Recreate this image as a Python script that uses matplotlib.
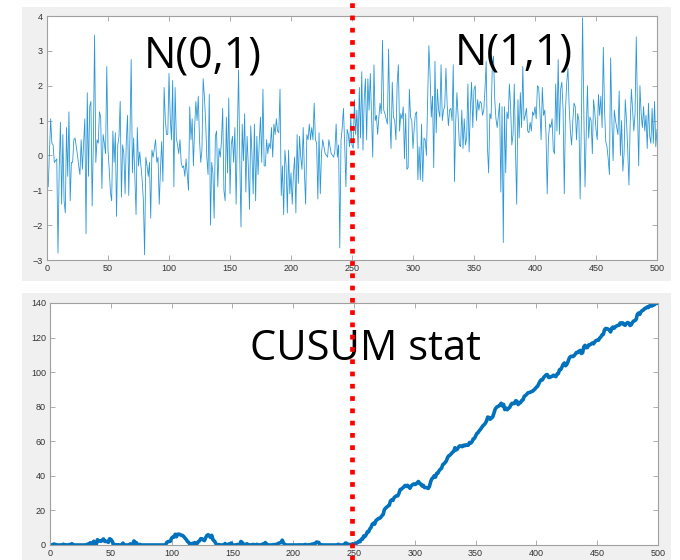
import numpy as np
import matplotlib
matplotlib.use("Agg")
import matplotlib.pyplot as plt
import matplotlib.transforms as mtransforms
from matplotlib.patches import Rectangle
from matplotlib.lines import Line2D

# Observations before the change, drawn around N(0,1)
pre_change = [
    -0.9, 0.1, 1.05, 0.35, 0.3, -0.2, -0.15, -0.1, -2.8, -0.4,
    0.95, -1.4, 0.6, -1.3, -1.65, 0.8, -0.6, 1.25, -1.3, -0.2,
    -0.2, 0.45, 0.5, 0.25, 0.0, -0.3, -0.55, 0.45, -0.4, 0.3,
    1.05, -2.25, 1.8, -0.6, 1.4, 1.55, -1.45, 0.4, 3.45, -0.2,
    0.45, 0.35, 1.25, 1.1, -0.95, 0.6, 0.35, 0.05, 2.55, 0.15,
    -0.4, -1.05, -1.3, 0.7, -0.2, 0.65, -1.75, 0.3, 0.55, 1.55,
    -1.2, 0.3, 0.05, -1.1, 0.4, 1.15, -1.15, 0.6, 2.75, -0.5,
    0.5, -0.6, -1.7, 0.8, -0.3, 0.1, -0.3, -0.7, -1.3, -2.85,
    -0.05, -0.3, -0.6, -0.2, -1.8, 0.15, -0.05, 0.2, 0.45, -0.2,
    -0.05, -1.4, -0.4, 0.4, -0.75, 1.95, 1.0, 0.6, 0.6, 2.35,
    1.1, 0.45, 2.15, -0.9, 1.95, 0.5, 0.3, 0.05, 0.45, -0.2,
    -0.35, -0.3, -0.6, -0.1, -0.55, -1.0, 1.4, 0.45, 1.05, -0.3,
    0.8, 1.55, 1.0, 1.7, 0.45, -0.2, 0.15, 2.2, 1.7, 1.0,
    -0.05, -0.55, 1.75, -2.0, -0.2, -0.5, -1.8, 0.55, 0.7, -0.9,
    0.2, -0.05, 0.4, 1.35, -1.0, -1.3, 1.1, -0.5, 1.65, -1.1,
    0.3, 0.55, -0.2, 0.8, -1.4, 0.6, 2.45, -0.05, -2.05, 0.9,
    -0.15, 1.2, -1.05, 0.55, -0.3, -1.55, 0.85, 0.05, -1.1, 0.9,
    -1.3, 0.55, -0.55, 0.4, 1.1, -0.2, 1.9, -0.3, -0.3, 0.45,
    0.05, 0.35, 0.2, 0.8, -0.05, 0.9, 0.6, 1.05, 0.7, 0.65,
    1.9, -1.15, -0.3, -1.7, 0.15, -0.3, -1.65, 0.15, -1.1, -0.5,
    -1.4, -0.5, -0.05, -1.65, 0.6, -0.8, 0.55, -0.05, -0.4, 0.8,
    -0.5, -1.4, 0.6, 0.45, 0.9, 0.45, 0.8, 0.45, 1.5, 0.45,
    0.35, -1.25, 0.65, -1.1, 0.05, 0.45, 0.25, 0.05, 0.0, -0.05,
    0.45, 0.25, 0.05, 0.0, -0.05, 0.15, 0.9, -0.05, 0.3, -2.65,
    0.45, 0.8, 1.35, 0.3, -0.9, 0.75, 0.6, 0.25, 1.1, 0.3,
]

# Observations after the change, drawn around N(1,1)
post_change = [
    0.2, 1.6, 0.6, 1.3, 0.2, 1.95, 0.5, 2.4, 0.15, 1.6,
    2.2, 0.45, 2.2, 1.3, 2.35, 1.1, -0.05, 2.6, 1.0, 1.15,
    0.6, 1.1, 1.5, 1.2, 3.3, 1.3, 1.2, 1.05, 0.9, 3.05,
    1.1, 0.2, 2.1, 1.1, 1.0, 0.45, 2.05, 2.6, 0.7, 1.2,
    1.05, 1.4, -0.1, 1.2, -0.4, -0.35, 1.9, 1.1, 1.0, 0.2,
    0.8, 1.2, 1.25, -0.7, 0.25, -0.7, 0.9, -0.75, 0.5, 0.45,
    0.0, 1.65, 3.15, 2.3, 1.1, 1.7, -0.35, 2.7, 0.65, 1.9,
    1.3, 1.1, 2.6, 1.0, 1.3, 1.4, 2.5, 1.45, 0.85, 1.3,
    1.35, 1.0, 2.6, -0.75, 0.95, 1.8, 1.1, 0.3, 0.25, 1.3,
    0.2, 1.05, 0.3, 0.5, 2.05, 0.1, 1.3, 2.1, 0.8, 1.9,
    2.0, 1.0, 1.6, 1.3, 1.55, 1.5, 1.15, 1.3, 1.9, 2.7,
    0.25, -0.5, 1.2, 1.05, 2.55, 2.85, 1.6, 1.05, 0.8, 1.15,
    1.5, -1.05, 1.4, -2.5, 1.4, -0.5, 1.25, 1.05, 2.05, 1.4,
    0.3, 0.6, 2.05, 0.2, -1.4, 1.6, 0.5, 1.8, 0.8, 2.55,
    1.0, 1.15, 1.35, 0.7, 0.65, 0.95, 0.7, 1.25, 1.15, 1.4,
    1.05, 2.0, 1.95, 1.3, 0.45, 1.95, 1.15, 1.3, 0.65, -1.1,
    0.45, 0.9, 0.8, 1.05, 0.15, 0.05, 2.05, 0.7, 2.75, 0.6,
    1.9, 2.1, 1.3, -1.1, 1.3, 2.1, 2.5, 1.4, 0.7, 0.3,
    1.0, 1.5, 1.4, 0.45, 1.2, 1.0, -1.25, 0.95, 3.95, 1.3,
    -0.9, 0.65, 2.0, 0.5, 1.1, 1.0, 0.05, 1.6, 1.25, 0.75,
    0.45, 1.75, 1.15, 1.7, 0.8, 3.1, 1.3, 0.4, 0.25, -0.1,
    -0.55, 2.8, 1.05, -0.15, 1.3, 1.0, 0.8, 0.6, 1.85, 0.0,
    1.0, -0.45, 0.05, 1.6, 1.0, 0.15, -0.85, 0.9, 1.9, 1.3,
    0.7, 1.2, 3.4, 1.3, -0.3, 2.0, 1.2, 0.8, 1.4, 0.7,
    1.15, 0.2, 1.5, 0.55, 0.35, 1.35, 0.35, 1.55, 0.25, 0.75,
]

change_point = 250
mu0, mu1 = 0.0, 1.0

samples = np.array(pre_change + post_change)
n = np.arange(1, len(samples) + 1)

# CUSUM of the log-likelihood ratio for a unit shift in the mean
llr = (mu1 - mu0) * (samples - (mu0 + mu1) / 2)
cusum = np.zeros_like(samples)
s = 0.0
for i, v in enumerate(llr):
    s = max(0.0, s + v)
    cusum[i] = s

plt.rcParams['font.family'] = ['Liberation Sans', 'DejaVu Sans']

W, H = 680, 560
fig = plt.figure(figsize=(W / 100, H / 100), dpi=100, facecolor='white')

# grey figure panels behind each plot
for (x0, y0, x1, y1) in [(22, 7, 671, 281), (22, 293, 671, 560)]:
    fig.add_artist(Rectangle((x0 / W, 1 - y1 / H), (x1 - x0) / W, (y1 - y0) / H,
                             transform=fig.transFigure, facecolor='#f0f0f0',
                             edgecolor='none', zorder=-5))

ax1 = fig.add_axes([47 / W, 1 - 260 / H, 610 / W, 244 / H])
ax2 = fig.add_axes([50 / W, 1 - 545 / H, 608 / W, 242 / H])


def style(ax):
    ax.set_xlim(0, 500)
    ax.set_xticks(np.arange(0, 501, 50))
    ax.tick_params(direction='in', length=3.5, width=0.6, colors='#a0a0a0',
                   labelcolor='#333333', labelsize=6.5, top=True, right=True,
                   pad=3)
    for sp in ax.spines.values():
        sp.set_color('#a0a0a0')
        sp.set_linewidth(0.8)


ax1.plot(n, samples, color='#2b97d8', lw=0.6)
ax1.set_ylim(-3, 4)
ax1.set_yticks(np.arange(-3, 5, 1))
style(ax1)

ax2.plot(n, cusum, color='#0072BD', lw=2.6)
ax2.set_ylim(0, 140)
ax2.set_yticks(np.arange(0, 141, 20))
style(ax2)

title_font = ['Open Sans', 'DejaVu Sans']
fig.text(144 / W, 1 - 69 / H, 'N(0,1)', fontsize=31, family=title_font,
         va='baseline', ha='left')
fig.text(455 / W, 1 - 65 / H, 'N(1,1)', fontsize=31, family=title_font,
         va='baseline', ha='left')
fig.text(250 / W, 1 - 360 / H, 'CUSUM stat', fontsize=30, family=title_font,
         va='baseline', ha='left')

# change point marker running through both panels
trans = mtransforms.blended_transform_factory(ax1.transData, fig.transFigure)
fig.add_artist(Line2D([change_point, change_point], [0, 1], transform=trans,
                      color='#ff0000', lw=3.4, linestyle=(0, (1, 1.6)),
                      dash_capstyle='butt', zorder=10))

fig.savefig('out.png', dpi=100, facecolor='white')
